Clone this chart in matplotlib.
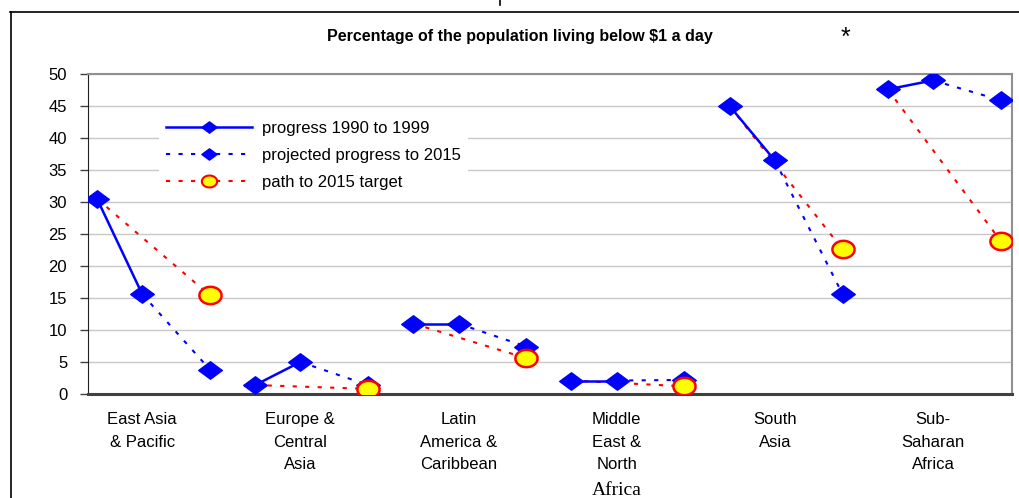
import matplotlib
matplotlib.use("Agg")
import matplotlib.pyplot as plt
from matplotlib.lines import Line2D
from matplotlib.path import Path
import numpy as np

plt.rcParams['font.family'] = ['Liberation Sans', 'DejaVu Sans']

# regions (x tick labels) and values
regions = ["East Asia\n& Pacific", "Europe &\nCentral\nAsia", "Latin\nAmerica &\nCaribbean",
           "Middle\nEast &\nNorth", "South\nAsia", "Sub-\nSaharan\nAfrica"]
progress_1990 = [30.5, 1.4, 11.0, 2.1, 45.0, 47.6]
progress_1999 = [15.6, 5.0, 11.0, 2.1, 36.5, 49.0]
projected_2015 = [3.8, 1.4, 7.4, 2.2, 15.6, 45.9]
target_2015 = [15.4, 0.8, 5.6, 1.2, 22.6, 23.9]
yticks = [0, 5, 10, 15, 20, 25, 30, 35, 40, 45, 50]

# category slots inside each group: 1990, 1999, (gap), (gap), 2015
slots = [0, 2, 5]
period = 7

diamond = Path([(-1, 0), (0, 0.74), (1, 0), (0, -0.74), (-1, 0)],
               [Path.MOVETO, Path.LINETO, Path.LINETO, Path.LINETO, Path.CLOSEPOLY])
t = np.linspace(0, 2 * np.pi, 40)
ellipse = Path(np.column_stack([np.cos(t), 0.78 * np.sin(t)]))

blue = "#0000ff"
red = "#ff0000"

fig = plt.figure(figsize=(10.19, 4.98), dpi=100)
ax = fig.add_axes([88 / 1019, 1 - 394 / 498, 924 / 1019, 320 / 498])

for g in range(len(regions)):
    x0, x1, x2 = [g * period + s for s in slots]
    # path to target (drawn first, underneath)
    ax.plot([x0, x2], [progress_1990[g], target_2015[g]], color=red, lw=1.5,
            ls=(0, (2, 4)), zorder=2)
    ax.plot([x1, x2], [progress_1999[g], projected_2015[g]], color=blue, lw=1.5,
            ls=(0, (2, 4)), zorder=3)
    ax.plot([x0, x1], [progress_1990[g], progress_1999[g]], color=blue, lw=1.8, zorder=3)
    ax.plot([x0, x1, x2], [progress_1990[g], progress_1999[g], projected_2015[g]],
            ls='none', marker=diamond, ms=17, color=blue, mec=blue, zorder=4)
    ax.plot([x2], [target_2015[g]], ls='none', marker=ellipse, ms=16,
            mfc="#ffff00", mec=red, mew=1.8, zorder=5)

ax.set_xlim(-0.4, 40.5)
ax.set_ylim(0, 50)
ax.set_yticks(yticks)
ax.set_yticklabels([str(v) for v in yticks], fontsize=12)
ax.yaxis.grid(True, color="#c8c8c8", lw=1)
ax.set_axisbelow(True)
ax.tick_params(axis='y', length=6, width=1, pad=9, color="#404040")

# category labels drawn as texts so the line spacing can be set
centers = [g * period + slots[1] for g in range(len(regions))]
ax.set_xticks(centers)
ax.set_xticklabels([])
ax.tick_params(axis='x', length=0)
xt = ax.get_xaxis_transform()
for c, name in zip(centers, regions):
    ax.text(c, -0.055, name, transform=xt, ha='center', va='top',
            fontsize=12, linespacing=1.66)

# last line of the Middle East label is set in a serif face
ax.text(centers[3], -0.316, "Africa", transform=xt,
        ha='center', va='baseline', fontsize=14, family=['Liberation Serif', 'DejaVu Serif'])

ax.spines['left'].set_color("#202020")
ax.spines['bottom'].set_color("#404040")
ax.spines['bottom'].set_linewidth(2.2)
ax.spines['top'].set_color("#909090")
ax.spines['right'].set_color("#909090")
ax.spines['top'].set_linewidth(1.5)
ax.spines['right'].set_linewidth(1.5)

handles = [
    Line2D([], [], color=blue, lw=1.8, marker=diamond, ms=11, label="progress 1990 to 1999"),
    Line2D([], [], color=blue, lw=1.5, ls=(0, (2, 4)), marker=diamond, ms=11,
           label="projected progress to 2015"),
    Line2D([], [], color=red, lw=1.5, ls=(0, (2, 4)), marker=ellipse, ms=11,
           mfc="#ffff00", mec=red, mew=1.5, label="path to 2015 target"),
]
leg = ax.legend(handles=handles, loc='upper left', bbox_to_anchor=(71 / 924, 1 - 40 / 320),
                fontsize=12, frameon=True, framealpha=1, edgecolor='none',
                handlelength=5.2, handletextpad=0.6, labelspacing=0.73,
                borderpad=0.4, borderaxespad=0)
leg.get_frame().set_linewidth(0)

fig.text(520 / 1019, 1 - 36 / 498, "Percentage of the population living below $1 a day",
         ha='center', va='center', fontsize=11.5, fontweight='bold')
fig.text(845 / 1019, 1 - 38 / 498, "*", ha='center', va='center', fontsize=18)

# outer frame and small tick at the top
fig.add_artist(Line2D([10.5 / 1019, 10.5 / 1019], [0, 1 - 12 / 498], color='black', lw=1.2))
fig.add_artist(Line2D([10 / 1019, 1], [1 - 12 / 498, 1 - 12 / 498], color='black', lw=1.2))
fig.add_artist(Line2D([500 / 1019, 500 / 1019], [1 - 5 / 498, 1], color='black', lw=1.2))

fig.savefig("out.png", dpi=100)
